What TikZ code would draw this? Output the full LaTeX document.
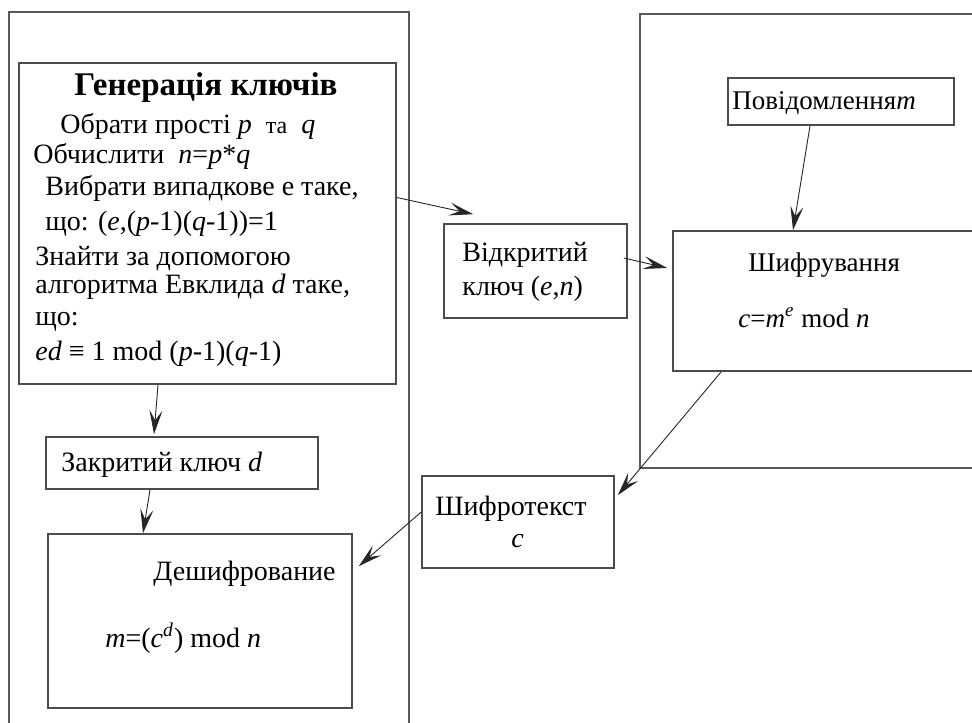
\documentclass[tikz,border=0pt]{standalone}
\usepackage{fontspec}
\setmainfont{Liberation Serif}
\usetikzlibrary{arrows.meta, positioning, fit, calc}
\newcommand{\kv}[1]{\textit{#1}}

\begin{document}
\begin{tikzpicture}[
  x=0.5pt, y=-0.5pt,
  frame/.style={draw=black!65, line width=0.6pt},
  box/.style={draw=black!70, line width=0.8pt, inner sep=0pt},
  txt/.style={inner sep=0pt, font=\fontsize{14}{17}\selectfont},
  link/.style={draw=black!85, line width=0.45pt, -{Stealth[length=12pt, width=6.5pt, inset=5pt]}}
]
\clip (0,0) rectangle (972,722);

% outer frames
\draw[frame] (9,730) |- (409,12) -- (409,730);
\draw[frame] (990,14) -| (640,468) -- (990,468);

% boxes
\node[box, fit={(19,63) (396,384)}] (gen) {};
\node[box, fit={(444,224) (627,318)}] (pub) {};
\node[box, fit={(728,78) (954,125)}] (msg) {};
\node[box, fit={(673,231) (995,371)}] (enc) {};
\node[box, fit={(422,476) (614,568)}] (cipher) {};
\node[box, fit={(46,437) (318,489)}] (priv) {};
\node[box, fit={(48,534) (352,708)}] (dec) {};

% key generation
\node[txt, font=\fontsize{16.5}{19}\selectfont\bfseries, anchor=base] (genTitle) at (206,96) {Генерація ключів};
\foreach \x/\y/\lbl [count=\i] in {
  60/133/{Обрати прості \kv{p}\enspace{\fontsize{12}{14}\selectfont та}\enspace\kv{q}},
  33/163/{Обчислити\enspace \kv{n}=\kv{p}*\kv{q}},
  45/195/{Вибрати випадкове е таке,},
  45/230/{що: (\kv{e},(\kv{p}-1)(\kv{q}-1))=1},
  35/265/{Знайти за допомогою},
  35/293/{алгоритма Евклида \kv{d} таке,},
  35/325/{що:},
  35/360/{\kv{ed} ≡ 1 mod (\kv{p}-1)(\kv{q}-1)}}
  \node[txt, anchor=base west] (gen\i) at (\x,\y) {\lbl};

% other labels
\node[txt, anchor=base west] (pubA) at (462,261) {Відкритий};
\node[txt, anchor=base west] (pubB) at (462,295) {ключ (\kv{e},\kv{n})};
\node[txt, font=\fontsize{13.5}{16}\selectfont, anchor=base west] (msgText) at (732,110) {Повідомлення\kv{m}};
\node[txt, font=\fontsize{13.5}{16}\selectfont, anchor=base west] (encA) at (748,271) {Шифрування};
\node[txt, font=\fontsize{13.5}{16}\selectfont, anchor=base west] (encB) at (738,327) {\kv{c}=\kv{m}\textsuperscript{\kv{e}} mod \kv{n}};
\node[txt, anchor=base west] (cipherA) at (435,515) {Шифротекст};
\node[txt, anchor=base west] (cipherB) at (511,547) {\kv{c}};
\node[txt, anchor=base west] (privText) at (61,471) {Закритий ключ \kv{d}};
\node[txt, anchor=base west] (decA) at (153,580) {Дешифрование};
\node[txt, anchor=base west] (decB) at (105,647) {\kv{m}=(\kv{c}\textsuperscript{\kv{d}}) mod \kv{n}};

% connectors
\draw[link] ([yshift=13pt]gen.east) -- ([xshift=15pt, yshift=4.5pt]pub.north west);
\draw[link] ([xshift=-2pt, yshift=6.5pt]pub.east) -- ([xshift=-2.5pt, yshift=16.5pt]enc.west);
\draw[link] ([xshift=-15.5pt]msg.south) -- ([xshift=-20.5pt]enc.north);
\draw[link] ([xshift=24.5pt]enc.south west) -- ([xshift=1.5pt, yshift=-10pt]cipher.north east);
\draw[link] ([yshift=5pt]cipher.west) -- ([xshift=3pt, yshift=-16.5pt]dec.north east);
\draw[link] ([xshift=-24.75pt]gen.south) -- ([xshift=-14pt, yshift=1pt]priv.north);
\draw[link] ([xshift=-16pt]priv.south) -- ([xshift=-28.5pt]dec.north);
\end{tikzpicture}
\end{document}
